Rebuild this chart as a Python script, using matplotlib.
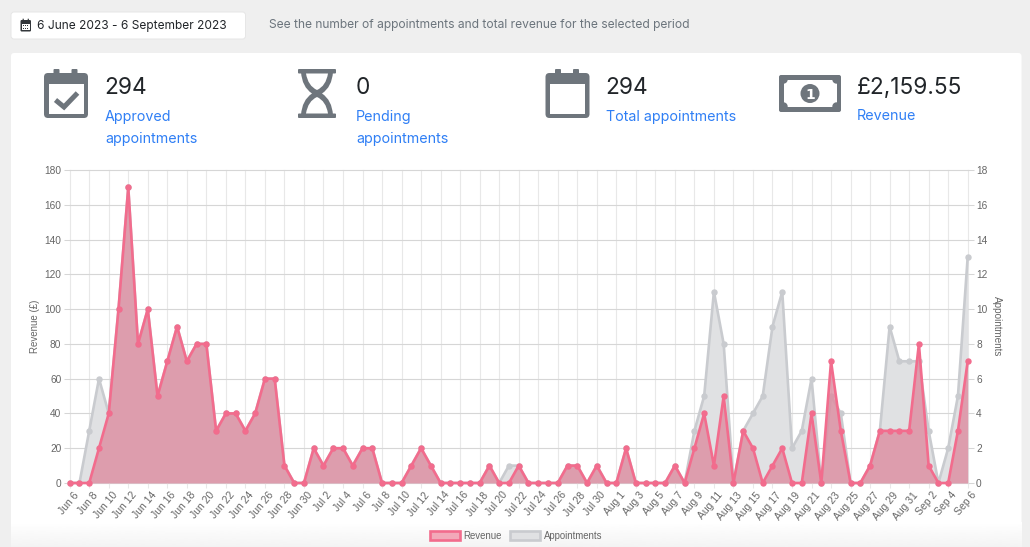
import numpy as np
import pandas as pd
import matplotlib
matplotlib.use("Agg")
import matplotlib.pyplot as plt
from matplotlib.patches import FancyBboxPatch, Rectangle, Circle, PathPatch, Patch
from matplotlib.path import Path
from matplotlib.transforms import ScaledTranslation

W, H = 1030, 547

dates = pd.date_range("2023-06-06", "2023-09-06", freq="D")
revenue = [0, 0, 0, 20, 40, 100, 170, 80, 100, 50, 70, 90, 70, 80, 80, 30, 40, 40, 30, 40, 60, 60, 10, 0, 0,
           20, 10, 20, 20, 10, 20, 20, 0, 0, 0, 10, 20, 10, 0, 0, 0, 0, 0, 10, 0, 0, 10, 0, 0, 0, 0, 10, 10, 0, 10, 0,
           0, 20, 0, 0, 0, 0, 10, 0, 20, 40, 10, 50, 0, 30, 20, 0, 10, 20, 0, 0, 40, 0, 70, 30, 0, 0, 10, 30, 30, 30, 30,
           80, 10, 0, 0, 30, 70]
appointments = [0, 0, 3, 6, 4, 10, 17, 8, 10, 5, 7, 9, 7, 8, 8, 3, 4, 4, 3, 4, 6, 6, 1, 0, 0,
                2, 1, 2, 2, 1, 2, 2, 0, 0, 0, 1, 2, 1, 0, 0, 0, 0, 0, 1, 0, 1, 1, 0, 0, 0, 0, 1, 1, 0, 1, 0,
                0, 2, 0, 0, 0, 0, 1, 0, 3, 5, 11, 8, 0, 3, 4, 5, 9, 11, 2, 3, 6, 0, 5, 4, 0, 0, 1, 3, 9, 7, 7,
                7, 3, 0, 2, 5, 13]
stats = ["294", "0", "294", "£2,159.55"]

UI = ["Inter", "DejaVu Sans"]
CH = ["Liberation Sans", "DejaVu Sans"]
ICON = "#6e757c"
BLUE = "#2f7ff5"
GRID_H = "#d6d6d6"
GRID_V = "#e8e8e8"
TICK = "#666666"
RED = "#f26c8d"
RED_FILL = "#dd8ca0"
GREY = "#c9cbcf"
GREY_FILL = "#e0e1e3"

fig = plt.figure(figsize=(W / 100, H / 100), dpi=100, facecolor="#efefef")

# page layer in pixel coordinates
bg = fig.add_axes([0, 0, 1, 1], zorder=0)
bg.set_xlim(0, W)
bg.set_ylim(H, 0)
bg.axis("off")

bg.add_patch(FancyBboxPatch((11, 12), 234.5, 27, boxstyle="round,pad=0,rounding_size=3", fc="white",
                            ec="#e6e6e6", lw=0.7))
bg.add_patch(FancyBboxPatch((11, 53), 1010.5, 500, boxstyle="round,pad=0,rounding_size=3", fc="white", ec="none"))
grad = np.linspace(1, 0.955, 40).reshape(-1, 1)
bg.imshow(grad, extent=(11, 1021.5, 547, 522), cmap="gray", vmin=0, vmax=1, aspect="auto", zorder=1.5)
bg.set_xlim(0, W)
bg.set_ylim(H, 0)

def txt(x, y, s, size, color, **kw):
    bg.text(x, y, s, fontsize=size, color=color, family=UI, va="center", ha="left", **kw)

txt(37, 25.5, "6 June 2023 - 6 September 2023", 8.6, "#212529")
txt(269, 25, "See the number of appointments and total revenue for the selected period", 8.7, "#6c757d")

for xp, s in zip([104.5, 355.5, 605.5, 856.5], stats):
    txt(xp, 87.5, s, 16.3, "#212529")
for xp, yp, s in [(105, 116.5, "Approved"), (105, 139.5, "appointments"), (356, 116.5, "Pending"),
                  (356, 139.5, "appointments"), (606, 116.5, "Total appointments"), (857, 116.5, "Revenue")]:
    txt(xp, yp, s, 10.3, BLUE)

def rr(x, y, w, h, r, fc, z=2):
    bg.add_patch(FancyBboxPatch((x, y), w, h, boxstyle=f"round,pad=0,rounding_size={r}", fc=fc, ec="none", zorder=z))

def calendar(x0, check=False):
    rr(x0, 73, 44, 45, 4, ICON)
    rr(x0 + 9.5, 69, 6, 10, 1, ICON)
    rr(x0 + 27.5, 69, 6, 10, 1, ICON)
    bg.add_patch(Rectangle((x0 + 4.5, 84), 35, 30, fc="white", ec="none", zorder=3))
    if check:
        bg.plot([x0 + 11.5, x0 + 20, x0 + 33.5], [100, 107, 93], color=ICON, lw=3.6, zorder=4,
                solid_capstyle="butt", solid_joinstyle="miter")

calendar(44, check=True)
calendar(545.5)

# small calendar in the date box
rr(20.5, 20, 10.5, 11.5, 1.2, "#33373b")
bg.add_patch(Rectangle((22, 24), 7.5, 6, fc="white", ec="none", zorder=3))
for px in (23.3, 25.3, 27.3):
    for py in (25.7, 28):
        bg.add_patch(Rectangle((px - 0.5, py - 0.5), 1, 1, fc="#33373b", ec="none", zorder=4))
rr(22.6, 18.7, 1.2, 2.4, 0.2, "#33373b")
rr(27.7, 18.7, 1.2, 2.4, 0.2, "#33373b")

# hourglass
rr(298, 69, 38, 4.5, 1, ICON)
rr(298, 113.5, 38, 4.5, 1, ICON)
c, my = 317, 93.5
MV, C3, CL = Path.MOVETO, Path.CURVE3, Path.CLOSEPOLY
outer = [(301, 72), (302, 87), (312, my), (302, 100), (301, 115), (333, 115), (332, 100), (322, my), (332, 87), (333, 72), (301, 72)]
outer_c = [MV, C3, C3, C3, C3, Path.LINETO, C3, C3, C3, C3, CL]
bg.add_patch(PathPatch(Path(outer, outer_c), fc=ICON, ec="none", zorder=2))
up = [(306, 73.5), (308, 86), (c, 90), (326, 86), (328, 73.5), (306, 73.5)]
up_c = [MV, C3, C3, C3, C3, CL]
low = [(306, 113.5), (308, 101), (c, 97), (326, 101), (328, 113.5), (306, 113.5)]
bg.add_patch(PathPatch(Path(up, up_c), fc="white", ec="none", zorder=3))
bg.add_patch(PathPatch(Path(low, up_c), fc="white", ec="none", zorder=3))

# banknote
rr(779, 75, 62, 37, 2, ICON)
bg.add_patch(Rectangle((783.5, 79.5), 53, 27, fc="white", ec="none", zorder=3))
for cx, cy in [(783.5, 79.5), (836.5, 79.5), (783.5, 106.5), (836.5, 106.5)]:
    bg.add_patch(Circle((cx, cy), 4.2, fc=ICON, ec="none", zorder=4))
bg.add_patch(Circle((810, 93.5), 9.5, fc=ICON, ec="none", zorder=4))
bg.text(810, 93.5, "1", fontsize=10, color="white", family="DejaVu Sans", weight="bold",
        ha="center", va="center_baseline", zorder=5)

# chart
L, R, T, B = 69.7, 967.7, 170, 483
ax = fig.add_axes([L / W, 1 - B / H, (R - L) / W, (B - T) / H], zorder=3)
ax2 = ax.twinx()
ax2.set_zorder(2)
ax.set_zorder(3)
ax.patch.set_visible(False)
ax2.patch.set_visible(False)

x = np.arange(len(dates))
labels = [f"{d:%b} {d.day}" for d in dates]

ax2.fill_between(x, appointments, 0, color=GREY_FILL, lw=0, zorder=2)
ax2.plot(x, appointments, color=GREY, lw=1.9, marker="o", ms=3.6, clip_on=False, zorder=3)
ax.fill_between(x, revenue, 0, color=RED_FILL, alpha=0.8, lw=0, zorder=2)
ax.plot(x, revenue, color=RED, lw=1.9, marker="o", ms=3.6, clip_on=False, zorder=3)

ax.set_xlim(0, len(dates) - 1)
ax.set_ylim(0, 180)
ax2.set_ylim(0, 18)
ax.set_yticks(np.arange(0, 181, 20))
ax2.set_yticks(np.arange(0, 19, 2))
ax.set_xticks(x[::2])
ax.set_xticklabels(labels[::2], rotation=50, ha="right", rotation_mode="anchor", family=CH)

# gridlines sit on the lower axes, so both filled areas cover them
ax2.xaxis.set_visible(True)
ax2.set_xticks(x[::2])
ax2.tick_params(axis="x", length=0, labelbottom=False, labeltop=False)
ax.grid(False)
ax2.set_axisbelow(True)
ax2.grid(axis="y", color=GRID_H, lw=0.8)
ax2.grid(axis="x", color=GRID_V, lw=0.8)
for line in ax2.get_ygridlines() + ax2.get_xgridlines():
    line.set_clip_on(False)

for a in (ax, ax2):
    for s in a.spines.values():
        s.set_visible(False)
    a.tick_params(axis="y", length=4.5, width=0.75, color=GRID_H, labelsize=7.3, labelcolor=TICK, pad=1.5)
    for t in a.get_yticklabels():
        t.set_family(CH)
ax.tick_params(axis="x", length=3.5, width=0.75, color=GRID_V, labelsize=7.5, labelcolor=TICK, pad=1.5)
shift = ScaledTranslation(3 / 100, 0, fig.dpi_scale_trans)
for t in ax.get_xticklabels():
    t.set_transform(t.get_transform() + shift)

bg.text(35, 326, "Revenue (£)", rotation=90, fontsize=7, color=TICK, family=CH, ha="center", va="center")
bg.text(997, 326, "Appointments", rotation=-90, fontsize=7.1, color=TICK, family=CH, ha="center", va="center")

handles = [Patch(fc="#f2a9b9", ec=RED, lw=1.9), Patch(fc=GREY_FILL, ec=GREY, lw=1.9)]
leg = fig.legend(handles, ["Revenue", "Appointments"], loc="center", bbox_to_anchor=(516 / W, 1 - 536 / H),
                 ncol=2, frameon=False, handlelength=3.15, handleheight=1.0, handletextpad=0.4,
                 columnspacing=0.8, borderpad=0, labelcolor=TICK, prop={"family": CH, "size": 6.9})

fig.savefig("out.png", dpi=100, facecolor=fig.get_facecolor())
